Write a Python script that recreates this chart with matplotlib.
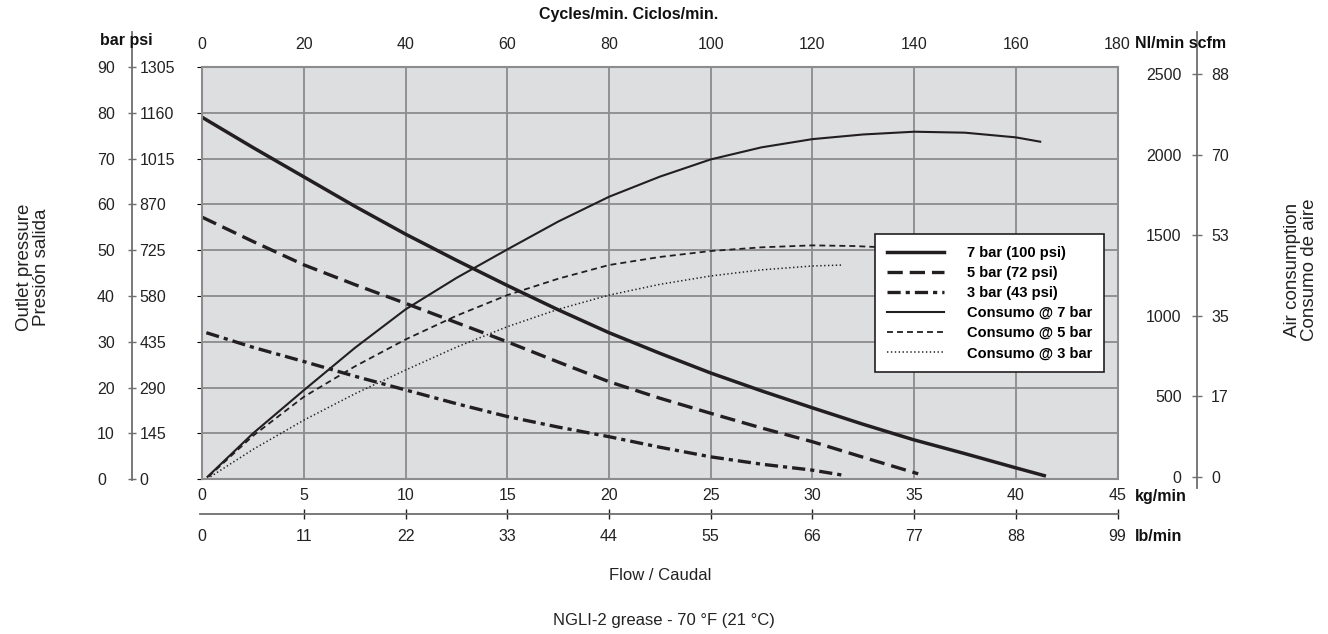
import matplotlib
matplotlib.use('Agg')
import matplotlib.pyplot as plt

plt.rcParams['font.family'] = ['Liberation Sans', 'DejaVu Sans']
plt.rcParams['lines.scale_dashes'] = False

# pressure curves (bar) vs flow (kg/min)
kg_7 = [0, 2.5, 5, 7.5, 10, 12.5, 15, 17.5, 20, 22.5, 25, 27.5, 30, 32.5, 35, 37.5, 40, 41.4]
bar_7 = [79, 72.4, 66, 59.6, 53.5, 47.8, 42.3, 37, 32, 27.5, 23.2, 19.3, 15.6, 12, 8.6, 5.6, 2.5, 0.8]
kg_5 = [0, 2.5, 5, 7.5, 10, 12.5, 15, 17.5, 20, 22.5, 25, 27.5, 30, 32.5, 35.2]
bar_5 = [57.2, 51.9, 46.8, 42.5, 38.4, 34.2, 30.0, 25.6, 21.3, 17.7, 14.4, 11.2, 8.2, 4.8, 1.2]
kg_3 = [0.2, 2.5, 5, 7.5, 10, 12.5, 15, 17.5, 20, 22.5, 25, 27.5, 30, 31.5]
bar_3 = [32, 28.8, 25.7, 22.5, 19.5, 16.5, 13.7, 11.4, 9.3, 7.0, 4.9, 3.3, 2.0, 0.9]

# air consumption (Nl/min) vs flow (kg/min)
kg_c7 = [0.26, 2.5, 5, 7.5, 10, 12.5, 15, 17.5, 20, 22.5, 25, 27.5, 30, 32.5, 35, 37.5, 40, 41.2]
nl_c7 = [0, 270, 538, 800, 1040, 1235, 1412, 1585, 1739, 1864, 1971, 2046, 2097, 2126, 2143, 2137, 2108, 2081]
kg_c5 = [0.3, 2.5, 5, 7.5, 10, 12.5, 15, 17.5, 20, 22.5, 25, 27.5, 30, 32, 33.5]
nl_c5 = [0, 255, 497, 685, 853, 1000, 1128, 1230, 1315, 1365, 1402, 1425, 1437, 1433, 1425]
kg_c3 = [0.4, 2.5, 5, 7.5, 10, 12.5, 15, 17.5, 20, 22.5, 25, 27.5, 30, 31.5]
nl_c3 = [0, 170, 352, 515, 663, 805, 932, 1040, 1128, 1195, 1247, 1285, 1309, 1315]

kg_ticks = [0, 5, 10, 15, 20, 25, 30, 35, 40, 45]
lb_ticks = [0, 11, 22, 33, 44, 55, 66, 77, 88, 99]
cycle_ticks = [0, 20, 40, 60, 80, 100, 120, 140, 160, 180]
bar_ticks = [0, 10, 20, 30, 40, 50, 60, 70, 80, 90]
psi_labels = ['0', '145', '290', '435', '580', '725', '870', '1015', '1160', '1305']
nl_ticks = [0, 500, 1000, 1500, 2000, 2500]
scfm_labels = ['0', '17', '35', '53', '70', '88']

W, H = 1328, 634
def fx(px):
    return px / W
def fy(py):
    return 1 - py / H

INK = '#231f20'
GRID = '#8c8c8c'
AXC = '#6e6e6e'
TXT = '#222222'
FS = 11.5

fig = plt.figure(figsize=(13.28, 6.34), dpi=100)

# main plot area
ax = fig.add_axes([fx(202.3), fy(479.3), (1117.5 - 202.3) / W, (479.3 - 67) / H])
ax.set_xlim(0, 45)
ax.set_ylim(0, 90)
ax.set_facecolor('#dddee0')
ax.set_xticks(kg_ticks)
ax.set_yticks(bar_ticks)
ax.grid(True, color=GRID, lw=1.3)
ax.set_axisbelow(True)
ax.tick_params(axis='y', left=False, labelleft=False)
ax.tick_params(axis='x', length=0, pad=6, labelsize=FS, colors=TXT)
for s in ax.spines.values():
    s.set_color(GRID)
    s.set_linewidth(1.5)

ax.plot(kg_7, bar_7, color=INK, lw=2.5, label='7 bar (100 psi)')
ax.plot(kg_5, bar_5, color=INK, lw=2.4, dashes=(11, 5), label='5 bar (72 psi)')
ax.plot(kg_3, bar_3, color=INK, lw=2.4, dashes=(9.5, 3.6, 3, 3.6), label='3 bar (43 psi)')

# cycles axis on top
top = ax.secondary_xaxis('top', functions=(lambda k: k * 4, lambda c: c / 4))
top.set_xticks(cycle_ticks)
top.tick_params(length=0, pad=11, labelsize=FS, colors=TXT)
top.spines['top'].set_visible(False)

# consumption curves on twin scale
ax2 = ax.twinx()
ax2.set_ylim(-16, 2545)
ax2.set_yticks([])
for s in ax2.spines.values():
    s.set_visible(False)
ax2.plot(kg_c7, nl_c7, color=INK, lw=1.5, label='Consumo @ 7 bar')
ax2.plot(kg_c5, nl_c5, color=INK, lw=1.3, dashes=(4.3, 2.9), label='Consumo @ 5 bar')
ax2.plot(kg_c3, nl_c3, color=INK, lw=1.1, dashes=(1, 1.8), label='Consumo @ 3 bar')

h1, l1 = ax.get_legend_handles_labels()
h2, l2 = ax2.get_legend_handles_labels()
leg = ax2.legend(h1 + h2, l1 + l2, loc='upper left',
                 bbox_to_anchor=(fx(875), fy(234)), bbox_transform=fig.transFigure,
                 borderaxespad=0, fancybox=False, framealpha=1, edgecolor=INK,
                 prop={'weight': 'bold', 'size': 10.5}, handlelength=3.9,
                 handletextpad=1.6, labelspacing=0.42, borderpad=0.8)
leg.get_frame().set_linewidth(1.2)

# left pressure scale (bar / psi)
axl = fig.add_axes([fx(131.7), fy(480), 0.0005, (480 - 32) / H])
axl.patch.set_visible(False)
axl.set_ylim(-0.153, 97.64)
axl.set_xticks([])
for k in ['right', 'top', 'bottom']:
    axl.spines[k].set_visible(False)
axl.spines['left'].set_color(AXC)
axl.spines['left'].set_linewidth(1.3)
axl.set_yticks(bar_ticks)
axl.set_yticklabels([str(b) for b in bar_ticks])
axl.tick_params(axis='y', direction='inout', length=6, width=1, color=AXC,
                pad=22, labelsize=FS, labelcolor=TXT)
for t in axl.get_yticklabels():
    t.set_horizontalalignment('left')
axl2 = axl.twinx()
axl2.set_ylim(-0.153, 97.64)
for s in axl2.spines.values():
    s.set_visible(False)
axl2.set_yticks(bar_ticks)
axl2.set_yticklabels(psi_labels)
axl2.tick_params(axis='y', length=0, pad=5, labelsize=FS, labelcolor=TXT)

# right air scale (Nl/min / scfm)
axr = fig.add_axes([fx(1197.3), fy(488), 0.0005, (488 - 32) / H])
axr.patch.set_visible(False)
axr.set_ylim(-70, 2762)
axr.set_xticks([])
for k in ['right', 'top', 'bottom']:
    axr.spines[k].set_visible(False)
axr.spines['left'].set_color(AXC)
axr.spines['left'].set_linewidth(1.3)
axr.set_yticks(nl_ticks)
axr.tick_params(axis='y', direction='inout', length=6.5, width=1, color=AXC,
                pad=8, labelsize=FS, labelcolor=TXT)
axr2 = axr.twinx()
axr2.set_ylim(-70, 2762)
for s in axr2.spines.values():
    s.set_visible(False)
axr2.set_yticks(nl_ticks)
axr2.set_yticklabels(scfm_labels)
axr2.tick_params(axis='y', length=0, pad=9.5, labelsize=FS, labelcolor=TXT)

# lb/min scale below
axb = fig.add_axes([fx(200), fy(514), (1117.5 - 200) / W, 0.0001])
axb.patch.set_visible(False)
axb.set_xlim(-0.113, 45)
axb.set_yticks([])
for k in ['left', 'right', 'top']:
    axb.spines[k].set_visible(False)
axb.spines['bottom'].set_color(AXC)
axb.spines['bottom'].set_linewidth(1.3)
axb.set_xticks([v / 2.2 for v in lb_ticks])
axb.set_xticklabels([str(v) for v in lb_ticks])
axb.tick_params(axis='x', direction='inout', length=7, width=1, color=INK,
                pad=7, labelsize=FS, labelcolor=TXT)
axb.xaxis.get_major_ticks()[0].tick1line.set_visible(False)

# titles and unit labels
bold = dict(fontsize=11.5, fontweight='bold', color='#111111', va='center')
fig.text(fx(126.5), fy(40), 'bar psi', ha='center', **bold)
fig.text(fx(1181), fy(44), 'Nl/min scfm', ha='center', **bold)
fig.text(fx(629), fy(15), 'Cycles/min. Ciclos/min.', ha='center', **bold)
fig.text(fx(1135), fy(496.7), 'kg/min', ha='left', **bold)
fig.text(fx(1135), fy(536.7), 'lb/min', ha='left', **bold)

fig.text(fx(660), fy(576), 'Flow / Caudal', ha='center', va='center', fontsize=12, color=TXT)
fig.text(fx(664), fy(620), 'NGLI-2 grease - 70 °F (21 °C)', ha='center', va='center',
         fontsize=12, color=TXT)
fig.text(fx(33), fy(267), 'Outlet pressure\nPresión salida', rotation=90, ha='center',
         va='center', multialignment='center', fontsize=13.5, linespacing=1.05, color=TXT)
fig.text(fx(1301), fy(270), 'Air consumption\nConsumo de aire', rotation=90, ha='center',
         va='center', multialignment='center', fontsize=13.5, linespacing=1.05, color=TXT)

fig.savefig('out.png', dpi=100)
